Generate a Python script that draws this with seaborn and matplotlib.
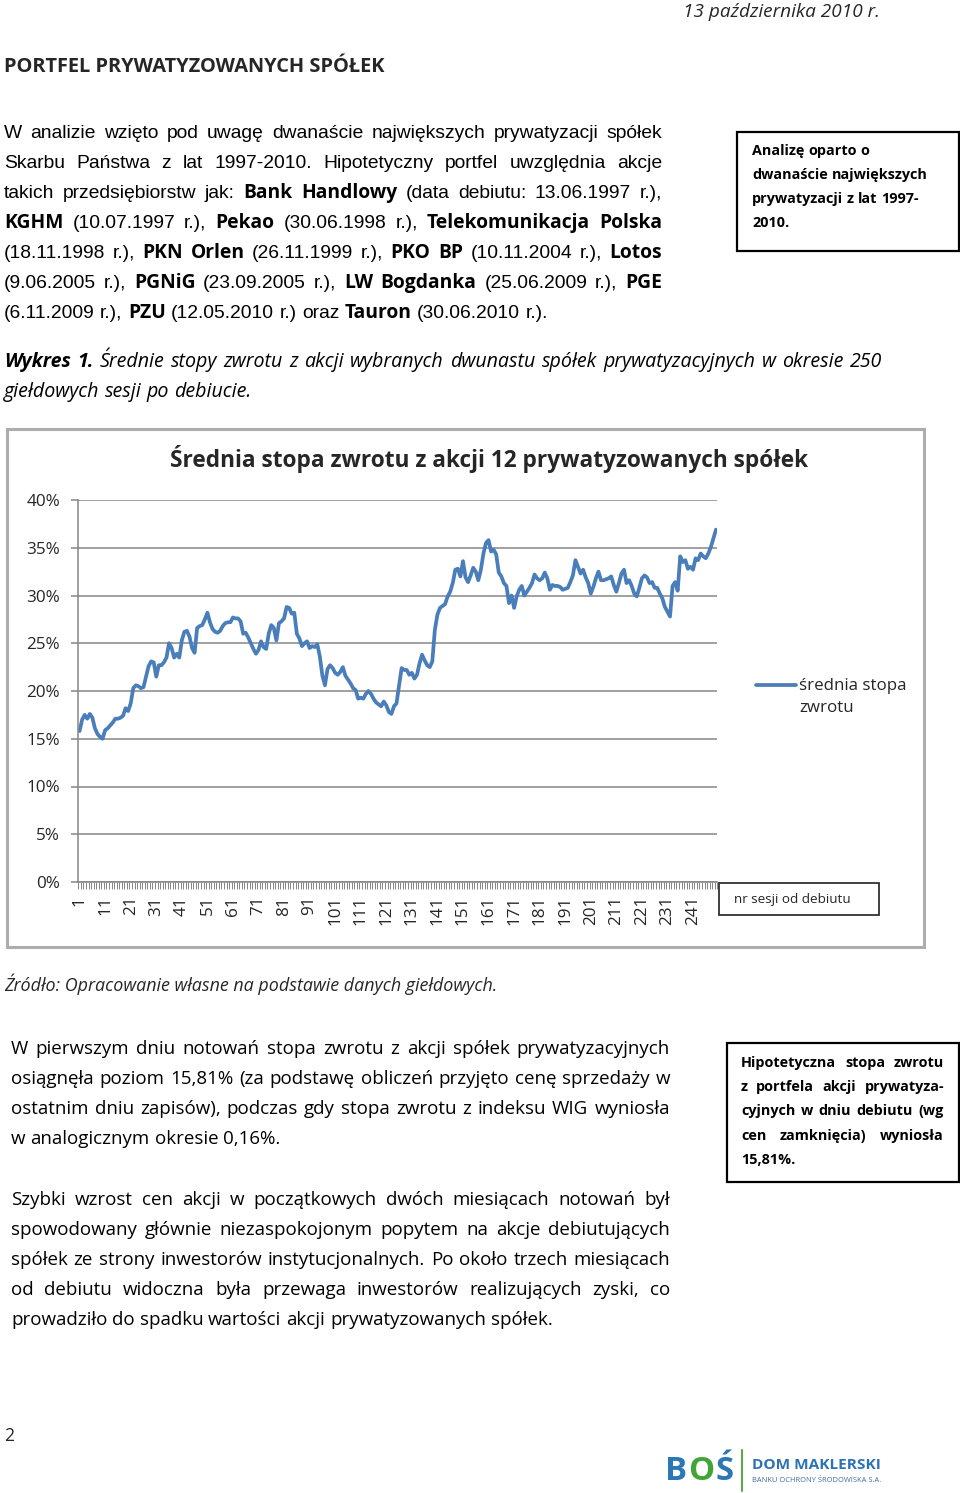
import numpy as np
import matplotlib
matplotlib.use("Agg")
import matplotlib.pyplot as plt
import seaborn as sns
from matplotlib.ticker import PercentFormatter
from matplotlib.patches import Rectangle
from matplotlib.lines import Line2D

# ---------------- data ----------------
sessions = list(range(1, 251))
avg_return_pct = [
    15.81, 17.0, 17.5, 17.1, 17.6, 17.2, 16.1, 15.5, 15.2, 15.0,
    15.9, 16.1, 16.4, 16.7, 17.1, 17.1, 17.2, 17.4, 18.2, 17.9,
    18.7, 20.3, 20.6, 20.5, 20.3, 20.4, 21.5, 22.6, 23.1, 23.0,
    21.5, 22.7, 22.7, 23.0, 23.5, 25.0, 24.5, 23.5, 23.9, 23.5,
    25.3, 26.2, 26.3, 25.7, 24.5, 24.0, 26.6, 26.8, 26.9, 27.5,
    28.2, 27.2, 26.5, 26.2, 26.1, 26.3, 26.8, 27.1, 27.2, 27.2,
    27.7, 27.6, 27.6, 27.3, 26.0, 26.1, 25.6, 25.0, 24.4, 23.9,
    24.3, 25.2, 24.6, 24.4, 26.0, 26.9, 26.6, 25.3, 27.1, 27.3,
    27.6, 28.8, 28.7, 28.1, 28.2, 26.0, 25.5, 24.7, 25.0, 25.2,
    24.5, 24.7, 24.6, 24.9, 23.6, 21.6, 20.6, 22.3, 22.7, 22.4,
    21.9, 21.7, 22.0, 22.5, 21.6, 21.2, 20.8, 20.3, 20.1, 19.2,
    19.3, 19.2, 19.7, 20.0, 19.7, 19.2, 18.8, 18.6, 18.4, 18.9,
    18.5, 17.8, 17.6, 18.4, 18.7, 20.6, 22.4, 22.2, 22.2, 21.7,
    21.9, 21.3, 21.7, 22.9, 23.8, 23.2, 22.7, 22.5, 23.1, 26.4,
    28.0, 28.7, 28.9, 29.1, 29.9, 30.4, 31.3, 32.7, 32.8, 32.0,
    33.6, 31.9, 31.4, 32.1, 32.9, 32.5, 31.6, 32.7, 34.4, 35.5,
    35.8, 34.6, 34.8, 34.3, 32.4, 32.0, 31.3, 31.0, 29.2, 30.0,
    28.7, 29.9, 30.6, 31.0, 30.0, 30.4, 30.8, 31.3, 32.2, 31.8,
    31.6, 31.8, 32.4, 31.8, 30.6, 31.1, 31.0, 31.0, 30.9, 30.6,
    30.7, 30.8, 31.4, 32.1, 33.7, 33.0, 32.3, 32.7, 31.9, 31.3,
    30.2, 30.9, 31.8, 32.5, 31.6, 31.6, 31.7, 31.8, 32.0, 31.1,
    30.4, 31.3, 32.3, 32.7, 31.3, 31.6, 31.0, 30.2, 29.9, 30.8,
    31.8, 32.1, 31.9, 31.3, 31.4, 30.8, 30.8, 30.2, 29.7, 28.8,
    28.3, 27.8, 31.0, 31.4, 30.5, 34.1, 33.5, 33.7, 32.8, 33.0,
    32.7, 33.9, 33.7, 34.4, 34.1, 33.9, 34.4, 35.1, 36.0, 36.9,
]
y_ticks_pct = [0, 5, 10, 15, 20, 25, 30, 35, 40]
x_label_sessions = list(range(1, 251, 10))
series_name = "średnia stopa\nzwrotu"
chart_title = "Średnia stopa zwrotu z akcji 12 prywatyzowanych spółek"
x_axis_note = "nr sesji od debiutu"

page_date = "13 października 2010 r."
heading = "PORTFEL PRYWATYZOWANYCH SPÓŁEK"
intro_lines = [
    "W analizie wzięto pod uwagę dwanaście największych prywatyzacji spółek",
    "Skarbu Państwa z lat 1997-2010. Hipotetyczny portfel uwzględnia akcje",
    "takich przedsiębiorstw jak: **Bank Handlowy** (data debiutu: 13.06.1997 r.),",
    "**KGHM** (10.07.1997 r.), **Pekao** (30.06.1998 r.), **Telekomunikacja Polska**",
    "(18.11.1998 r.), **PKN Orlen** (26.11.1999 r.), **PKO BP** (10.11.2004 r.), **Lotos**",
    "(9.06.2005 r.), **PGNiG** (23.09.2005 r.), **LW Bogdanka** (25.06.2009 r.), **PGE**",
    "(6.11.2009 r.), **PZU** (12.05.2010 r.) oraz **Tauron** (30.06.2010 r.).",
]
box1_lines = ["Analizę oparto o", "dwanaście największych", "prywatyzacji z lat 1997-", "2010."]
caption_lines = [
    "**Wykres 1.** Średnie stopy zwrotu z akcji wybranych dwunastu spółek prywatyzacyjnych w okresie 250",
    "giełdowych sesji po debiucie.",
]
source_line = "Źródło: Opracowanie własne na podstawie danych giełdowych."
para2_lines = [
    "W pierwszym dniu notowań stopa zwrotu z akcji spółek prywatyzacyjnych",
    "osiągnęła poziom 15,81% (za podstawę obliczeń przyjęto cenę sprzedaży w",
    "ostatnim dniu zapisów), podczas gdy stopa zwrotu z indeksu WIG wyniosła",
    "w analogicznym okresie 0,16%.",
]
para3_lines = [
    "Szybki wzrost cen akcji w początkowych dwóch miesiącach notowań był",
    "spowodowany głównie niezaspokojonym popytem na akcje debiutujących",
    "spółek ze strony inwestorów instytucjonalnych. Po około trzech miesiącach",
    "od debiutu widoczna była przewaga inwestorów realizujących zyski, co",
    "prowadziło do spadku wartości akcji prywatyzowanych spółek.",
]
box2_lines = [
    "Hipotetyczna stopa zwrotu",
    "z portfela akcji prywatyza-",
    "cyjnych w dniu debiutu (wg",
    "cen zamknięcia) wyniosła",
    "15,81%.",
]
page_number = "2"
logo_letters = ["B", "O", "Ś"]
logo_colors = ["#2B78B5", "#3FA535", "#2B78B5"]

# ---------------- setup ----------------
W, H = 960, 1493
sns.set_theme(style="white")
CAL = ["Open Sans", "DejaVu Sans"]
ARI = ["Liberation Sans", "DejaVu Sans"]
plt.rcParams["font.family"] = CAL

fig = plt.figure(figsize=(W / 100, H / 100), dpi=100)
fig.patch.set_facecolor("white")
renderer = fig.canvas.get_renderer()


def fx(x):
    return x / W


def fy(y):
    return 1 - y / H


def tw(s, size, family, weight="normal", style="normal"):
    t = fig.text(0, 0, s, fontsize=size, family=family, weight=weight, style=style)
    w = t.get_window_extent(renderer).width
    t.remove()
    return w


def fit_size(s, target, family, weight="normal", style="normal"):
    return 12 * target / tw(s, 12, family, weight, style)


def words_of(markup, regw):
    out = []
    for i, part in enumerate(markup.split("**")):
        for w in part.split():
            out.append((w, "bold" if i % 2 else regw))
    return out


def natural(markup, size, fam, bfam, style="normal", regw="normal"):
    words = words_of(markup, regw)
    ws = [tw(w, size, bfam if b == "bold" else fam, b, style) for w, b in words]
    sp = tw("x x", size, fam, regw, style) - tw("xx", size, fam, regw, style)
    return sum(ws) + sp * (len(words) - 1)


def draw_line(markup, x0, x1, y, size, fam, bfam, justify, style="normal", regw="normal", color="black"):
    words = words_of(markup, regw)
    fams = [bfam if b == "bold" else fam for _, b in words]
    ws = [tw(w, size, f, b, style) for (w, b), f in zip(words, fams)]
    sp = tw("x x", size, fam, regw, style) - tw("xx", size, fam, regw, style)
    gap = (x1 - x0 - sum(ws)) / (len(words) - 1) if (justify and len(words) > 1) else sp
    x = x0
    for (w, b), f, wd in zip(words, fams, ws):
        fig.text(fx(x), fy(y), w, fontsize=size, family=f, weight=b, style=style,
                 va="center", ha="left", color=color)
        x += wd + gap


def paragraph(lines, x0, x1, ys, fit_idx, fit_w, fam, bfam, style="normal", regw="normal", justify=True):
    size = 12 * fit_w / natural(lines[fit_idx], 12, fam, bfam, style, regw)
    for i, (ln, y) in enumerate(zip(lines, ys)):
        draw_line(ln, x0, x1, y, size, fam, bfam, justify and i < len(lines) - 1, style, regw)
    return size


# ---------------- page text ----------------
fig.text(fx(880), fy(12), page_date, family=CAL, style="italic", ha="right", va="center",
         fontsize=fit_size(page_date, 197, CAL, style="italic"))
fig.text(fx(4), fy(67), heading, family=CAL, weight="bold", ha="left", va="center",
         fontsize=fit_size(heading, 381, CAL, weight="bold"))

paragraph(intro_lines, 4, 662, [133, 163, 193, 223, 253, 283, 313], 6, 541, ARI, CAL)

fig.patches.append(Rectangle((fx(737), fy(251)), (959 - 737) / W, (251 - 132) / H,
                             transform=fig.transFigure, fill=False, edgecolor="black", lw=1.6))
bsize = paragraph(box1_lines, 752, 950, [151, 175, 199, 223], 1, 175, CAL, CAL, regw="bold", justify=False)

paragraph(caption_lines, 4, 882, [362, 392], 1, 247, CAL, CAL, style="italic")

# chart frame
fig.patches.append(Rectangle((fx(7), fy(947)), (924 - 7) / W, (947 - 429) / H,
                             transform=fig.transFigure, fill=False, edgecolor="#ADADAD", lw=2.2))
fig.text(fx(489.5), fy(459), chart_title, family=CAL, weight="bold", ha="center", va="center",
         fontsize=fit_size(chart_title, 635, CAL, weight="bold"))

# ---------------- chart ----------------
ax = fig.add_axes([fx(78.3), fy(882), (717.3 - 78.3) / W, (882 - 500) / H])
ax.set_facecolor("white")
sns.lineplot(x=sessions, y=np.array(avg_return_pct) / 100, ax=ax, color="#4A7EBB",
             lw=2.7, label=series_name)
ax.set_xlim(0.5, 250.5)
ax.set_ylim(0, 0.40)
ax.set_yticks(np.array(y_ticks_pct) / 100)
ax.yaxis.set_major_formatter(PercentFormatter(1.0, decimals=0))
ax.grid(False)
ax.yaxis.grid(True, color="#868686", lw=1.1)
ax.set_axisbelow(True)
for s in ["top", "right"]:
    ax.spines[s].set_visible(False)
for s in ["left", "bottom"]:
    ax.spines[s].set_color("#868686")
    ax.spines[s].set_linewidth(1.1)

tick_size = fit_size("40%", 34, CAL)
ax.set_xticks(x_label_sessions)
ax.set_xticklabels([str(v) for v in x_label_sessions], rotation=90)
ax.set_xticks(np.arange(0.5, 251, 1), minor=True)
ax.tick_params(axis="x", which="major", length=0, pad=10, labelsize=tick_size, bottom=True)
ax.tick_params(axis="x", which="minor", length=5, width=0.7, color="#868686", bottom=True)
ax.tick_params(axis="y", which="major", length=5, width=1.1, color="#868686", pad=8,
               labelsize=tick_size, left=True)
ax.set_xlabel("")
ax.set_ylabel("")

leg_size = fit_size("średnia stopa", 106, CAL)
leg = ax.legend(loc="center left", bbox_to_anchor=(fx(756), fy(697)), bbox_transform=fig.transFigure,
                frameon=False, fontsize=leg_size, borderaxespad=0, borderpad=0,
                handlelength=40 / (leg_size * 100 / 72), handletextpad=0.2)
for t in leg.get_texts():
    t.set_linespacing(1.45)
for ln in leg.get_lines():
    ln.set_ydata(np.asarray(ln.get_ydata()) + 8.5)

# x-axis note box
fig.patches.append(Rectangle((fx(719), fy(915)), (879 - 719) / W, (915 - 883) / H,
                             transform=fig.transFigure, fill=False, edgecolor="#303030", lw=1.3))
fig.text(fx(734), fy(900), x_axis_note, family=CAL, ha="left", va="center",
         fontsize=fit_size(x_axis_note, 116, CAL))

# ---------------- lower text ----------------
fig.text(fx(4), fy(984), source_line, family=CAL, style="italic", ha="left", va="center",
         fontsize=fit_size(source_line, 493, CAL, style="italic"))

paragraph(para2_lines, 11, 670, [1049, 1079, 1109, 1139], 3, 268, CAL, CAL)
paragraph(para3_lines, 11, 670, [1200, 1230, 1260, 1290, 1320], 4, 539, CAL, CAL)

fig.patches.append(Rectangle((fx(727), fy(1182)), (959 - 727) / W, (1182 - 1043) / H,
                             transform=fig.transFigure, fill=False, edgecolor="black", lw=1.6))
for i, (ln, y) in enumerate(zip(box2_lines, [1063, 1087, 1111, 1136, 1160])):
    draw_line(ln, 741, 944, y, bsize, CAL, CAL, i < len(box2_lines) - 1, regw="bold")

fig.text(fx(4), fy(1436), page_number, family=CAL, ha="left", va="center",
         fontsize=fit_size(page_number, 10, CAL))

# ---------------- logo ----------------
logo_size = fit_size("".join(logo_letters), 66, CAL, weight="bold")
lx = 665
for letter, col in zip(logo_letters, logo_colors):
    fig.text(fx(lx), fy(1472), letter, family=CAL, weight="bold", color=col, ha="left",
             va="center", fontsize=logo_size)
    lx += tw(letter, logo_size, CAL, "bold") + 1
fig.lines.append(Line2D([fx(742), fx(742)], [fy(1450), fy(1491)], transform=fig.transFigure,
                        color="#5DA84A", lw=1.5))
fig.text(fx(752), fy(1465), "DOM MAKLERSKI", family=CAL, weight="bold", color="#2E72B4", ha="left",
         va="center", fontsize=fit_size("DOM MAKLERSKI", 128, CAL, weight="bold"))
fig.text(fx(752), fy(1480), "BANKU OCHRONY ŚRODOWISKA S.A.", family=CAL, color="#3E6E9E", ha="left",
         va="center", fontsize=fit_size("BANKU OCHRONY ŚRODOWISKA S.A.", 128, CAL))

fig.savefig("out.png", dpi=100, facecolor="white")
